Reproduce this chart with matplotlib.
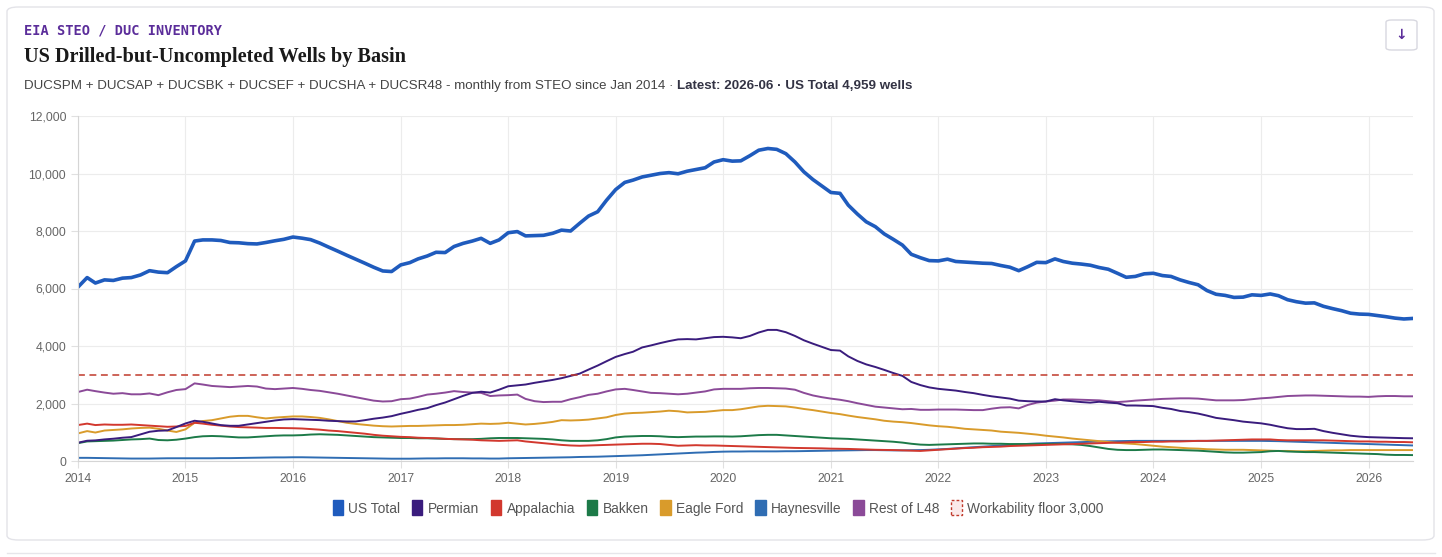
import matplotlib
matplotlib.use("Agg")
import matplotlib.pyplot as plt
import matplotlib.dates as mdates
from matplotlib.patches import Patch, FancyBboxPatch
from matplotlib.lines import Line2D
import pandas as pd

# monthly values, Jan 2014 .. Jun 2026
months = pd.date_range("2014-01-01", periods=150, freq="MS")

us_total = [
    6050, 6380, 6190, 6300, 6280, 6360, 6380, 6470, 6620, 6570, 6550, 6760,
    6960, 7650, 7690, 7690, 7670, 7600, 7590, 7560, 7550, 7600, 7660, 7710,
    7790, 7750, 7700, 7580, 7440, 7300, 7160, 7020, 6880, 6740, 6610, 6590,
    6820, 6900, 7030, 7130, 7260, 7250, 7460, 7570, 7650, 7745, 7570, 7690,
    7940, 7980, 7830, 7840, 7850, 7920, 8030, 8000, 8270, 8520, 8670, 9070,
    9440, 9690, 9770, 9880, 9940, 10000, 10030, 9990, 10080, 10140, 10200, 10400,
    10480, 10430, 10440, 10620, 10810, 10870, 10840, 10690, 10400, 10060, 9790, 9570,
    9340, 9310, 8900, 8590, 8320, 8150, 7900, 7710, 7510, 7190, 7070, 6970,
    6960, 7020, 6940, 6920, 6900, 6880, 6870, 6800, 6740, 6620, 6760, 6910,
    6900, 7030, 6940, 6880, 6850, 6810, 6730, 6670, 6530, 6390, 6420, 6510,
    6530, 6450, 6420, 6300, 6210, 6130, 5930, 5800, 5760, 5690, 5700, 5780,
    5760, 5810, 5750, 5610, 5540, 5490, 5500, 5380, 5300, 5230, 5140, 5110,
    5100, 5060, 5020, 4970, 4940, 4959,
]
permian = [
    636, 705, 717, 751, 775, 809, 832, 925, 1017, 1052, 1063, 1179,
    1306, 1400, 1364, 1306, 1248, 1225, 1225, 1271, 1318, 1364, 1410, 1445,
    1456, 1445, 1433, 1422, 1400, 1387, 1375, 1375, 1420, 1470, 1510, 1560,
    1641, 1710, 1780, 1838, 1942, 2035, 2150, 2266, 2370, 2410, 2380, 2480,
    2600, 2630, 2660, 2720, 2770, 2820, 2880, 2960, 3040, 3180, 3320, 3470,
    3620, 3720, 3800, 3950, 4020, 4100, 4170, 4230, 4240, 4230, 4270, 4310,
    4320, 4300, 4270, 4350, 4470, 4560, 4560, 4480, 4350, 4200, 4080, 3970,
    3860, 3840, 3640, 3480, 3360, 3270, 3170, 3060, 2960, 2750, 2640, 2560,
    2510, 2480, 2450, 2400, 2360, 2300, 2250, 2210, 2170, 2100, 2080, 2070,
    2070, 2150, 2110, 2080, 2050, 2030, 2060, 2030, 2010, 1930, 1930, 1920,
    1910, 1850, 1810, 1740, 1700, 1650, 1580, 1500, 1460, 1420, 1370, 1340,
    1310, 1260, 1200, 1140, 1110, 1110, 1120, 1040, 980, 930, 880, 850,
    830, 820, 810, 800, 795, 790,
]
appalachia = [
    1250, 1300, 1250, 1270, 1260, 1260, 1270, 1250, 1230, 1210, 1190, 1200,
    1220, 1330, 1300, 1260, 1230, 1200, 1180, 1170, 1160, 1150, 1150, 1145,
    1140, 1130, 1110, 1090, 1060, 1040, 1010, 980, 950, 910, 880, 860,
    840, 830, 810, 800, 790, 770, 760, 750, 740, 720, 710, 700,
    710, 720, 680, 650, 620, 590, 560, 540, 530, 540, 550, 560,
    570, 580, 590, 600, 600, 590, 560, 530, 540, 550, 540, 540,
    530, 520, 510, 500, 490, 480, 470, 460, 455, 450, 445, 440,
    430, 425, 420, 410, 400, 390, 385, 380, 370, 360, 350, 370,
    390, 410, 430, 450, 460, 480, 490, 500, 520, 530, 540, 550,
    560, 570, 580, 590, 600, 610, 620, 630, 640, 650, 660, 660,
    670, 670, 680, 680, 690, 700, 700, 710, 720, 730, 740, 750,
    750, 750, 730, 720, 720, 720, 720, 720, 710, 700, 690, 680,
    680, 670, 670, 660, 660, 650,
]
bakken = [
    620, 680, 690, 700, 710, 730, 750, 760, 780, 730, 720, 740,
    780, 830, 860, 870, 860, 840, 820, 820, 840, 860, 880, 890,
    890, 900, 920, 930, 920, 910, 890, 870, 850, 830, 820, 810,
    800, 800, 790, 790, 780, 770, 760, 760, 760, 770, 790, 800,
    800, 800, 790, 780, 770, 750, 720, 700, 700, 700, 720, 760,
    820, 850, 860, 870, 870, 860, 840, 830, 840, 850, 850, 855,
    855, 850, 860, 880, 900, 910, 910, 890, 870, 850, 830, 810,
    790, 780, 770, 750, 730, 710, 690, 670, 640, 600, 570, 560,
    570, 580, 590, 600, 610, 610, 600, 600, 590, 590, 590, 590,
    590, 590, 590, 580, 560, 520, 470, 420, 390, 380, 380, 390,
    400, 400, 390, 380, 370, 360, 340, 320, 300, 290, 290, 300,
    310, 340, 350, 330, 320, 310, 310, 300, 290, 280, 270, 260,
    250, 240, 220, 210, 210, 205,
]
eagle_ford = [
    960, 1040, 990, 1060, 1080, 1100, 1130, 1150, 1160, 1120, 1060, 1010,
    1100, 1330, 1390, 1420, 1480, 1540, 1570, 1570, 1520, 1480, 1510, 1530,
    1550, 1550, 1530, 1500, 1450, 1390, 1330, 1290, 1260, 1230, 1210, 1200,
    1210, 1220, 1220, 1230, 1240, 1250, 1250, 1260, 1280, 1300, 1290, 1300,
    1330, 1300, 1270, 1290, 1320, 1360, 1420, 1410, 1420, 1440, 1480, 1520,
    1600, 1650, 1670, 1680, 1700, 1720, 1750, 1730, 1690, 1700, 1710, 1740,
    1770, 1770, 1800, 1850, 1900, 1920, 1910, 1900, 1860, 1810, 1770, 1720,
    1670, 1630, 1580, 1530, 1490, 1450, 1400, 1370, 1350, 1320, 1280, 1240,
    1210, 1190, 1160, 1120, 1100, 1080, 1060, 1020, 1000, 980, 950, 920,
    880, 850, 820, 780, 750, 720, 690, 660, 630, 610, 590, 560,
    530, 500, 480, 460, 440, 430, 410, 400, 390, 390, 390, 380,
    370, 360, 350, 350, 340, 340, 350, 360, 370, 370, 380, 380,
    380, 380, 380, 380, 380, 380,
]
haynesville = [
    110, 110, 105, 100, 95, 90, 85, 85, 85, 90, 95, 95,
    95, 95, 95, 95, 100, 100, 105, 110, 115, 120, 125, 125,
    130, 130, 125, 120, 115, 110, 105, 100, 95, 90, 85, 80,
    80, 80, 85, 90, 90, 95, 95, 95, 90, 90, 85, 85,
    95, 100, 105, 110, 115, 120, 125, 130, 140, 145, 150, 160,
    170, 180, 190, 200, 215, 230, 245, 260, 275, 290, 300, 315,
    325, 330, 330, 335, 335, 335, 335, 340, 340, 345, 350, 355,
    360, 365, 370, 375, 380, 380, 375, 370, 370, 375, 380, 390,
    405, 420, 440, 460, 480, 500, 520, 540, 560, 580, 595, 610,
    620, 630, 640, 650, 660, 670, 680, 685, 690, 695, 700, 700,
    700, 700, 700, 700, 700, 700, 700, 700, 700, 700, 700, 700,
    700, 695, 690, 680, 670, 660, 650, 640, 630, 620, 610, 600,
    590, 580, 570, 560, 550, 540,
]
rest_l48 = [
    2400, 2480, 2430, 2380, 2340, 2360, 2320, 2320, 2350, 2290, 2390, 2470,
    2500, 2700, 2660, 2610, 2590, 2570, 2590, 2610, 2590, 2520, 2500, 2520,
    2540, 2510, 2470, 2440, 2390, 2340, 2280, 2220, 2160, 2100, 2070, 2080,
    2150, 2170, 2230, 2310, 2340, 2380, 2430, 2400, 2380, 2370, 2260, 2280,
    2290, 2310, 2160, 2080, 2050, 2060, 2060, 2150, 2220, 2300, 2340, 2420,
    2490, 2510, 2470, 2420, 2370, 2360, 2340, 2320, 2340, 2380, 2420, 2490,
    2510, 2510, 2510, 2530, 2540, 2540, 2530, 2520, 2480, 2370, 2280, 2220,
    2170, 2130, 2080, 2010, 1950, 1890, 1860, 1830, 1800, 1810, 1780, 1780,
    1790, 1790, 1790, 1780, 1770, 1770, 1820, 1860, 1870, 1830, 1950, 2030,
    2070, 2100, 2140, 2140, 2130, 2120, 2110, 2080, 2050, 2070, 2100, 2120,
    2140, 2160, 2170, 2180, 2180, 2170, 2140, 2110, 2110, 2110, 2120, 2150,
    2180, 2200, 2230, 2260, 2270, 2280, 2280, 2270, 2260, 2250, 2240, 2240,
    2230, 2250, 2260, 2260, 2250, 2250,
]
floor_value = 3000

series = [
    ("US Total", us_total, "#1f5bbd", 2.6),
    ("Permian", permian, "#3a1c7d", 1.4),
    ("Appalachia", appalachia, "#d2382e", 1.4),
    ("Bakken", bakken, "#1c7a48", 1.4),
    ("Eagle Ford", eagle_ford, "#d99b2b", 1.4),
    ("Haynesville", haynesville, "#2f6db3", 1.4),
    ("Rest of L48", rest_l48, "#8b4a98", 1.4),
]

fig = plt.figure(figsize=(14.42, 5.57), dpi=100)
fig.patch.set_facecolor("white")

# card outline (behind everything)
card = FancyBboxPatch((7 / 1442, 17 / 557), 1427 / 1442, 533 / 557,
                      boxstyle="round,pad=0,rounding_size=0.008",
                      transform=fig.transFigure, facecolor="white",
                      edgecolor="#e3e3e8", linewidth=1.0, zorder=-10)
fig.add_artist(card)
fig.add_artist(Line2D([7 / 1442, 1435 / 1442], [4 / 557, 4 / 557],
                      transform=fig.transFigure, color="#e6e6ea", lw=1.0, zorder=-10))

# download button
btn = FancyBboxPatch((1386 / 1442, 1 - 50 / 557), 31 / 1442, 30 / 557,
                     boxstyle="round,pad=0,rounding_size=0.004",
                     transform=fig.transFigure, facecolor="white",
                     edgecolor="#d8d8e0", linewidth=1.0)
fig.add_artist(btn)
fig.text(1401.5 / 1442, 1 - 35 / 557, "↓", ha="center", va="center",
         fontsize=10, fontweight="bold", color="#5b2d9a", family="DejaVu Sans")

# header texts
fig.text(24 / 1442, 1 - 30 / 557, "EIA STEO / DUC INVENTORY", ha="left", va="center",
         fontsize=9.85, fontweight="bold", color="#5b2d9a", family="DejaVu Sans Mono")
fig.text(24 / 1442, 1 - 57 / 557, "US Drilled-but-Uncompleted Wells by Basin",
         ha="left", va="center", fontsize=14.6, fontweight="bold", color="#1a1a1a",
         family="Liberation Serif")
sub1 = fig.text(24 / 1442, 1 - 86 / 557,
                "DUCSPM + DUCSAP + DUCSBK + DUCSEF + DUCSHA + DUCSR48 - monthly from STEO since Jan 2014 · ",
                ha="left", va="center", fontsize=9.65, color="#444444", family="Liberation Sans")
renderer = fig.canvas.get_renderer()
bb = sub1.get_window_extent(renderer)
fig.text(bb.x1 / fig.bbox.width, 1 - 86 / 557, "Latest: 2026-06 · US Total 4,959 wells",
         ha="left", va="center", fontsize=9.65, fontweight="bold", color="#333344",
         family="Liberation Sans")

ax = fig.add_axes([78 / 1442, 1 - 461 / 557, (1413 - 78) / 1442, (461 - 116) / 557])
ax.set_facecolor("white")
ax.set_zorder(1)

for name, vals, color, lw in reversed(series):
    ax.plot(months, vals, color=color, lw=lw, label=name, solid_joinstyle="round")

ax.axhline(floor_value, color="#c0392b", lw=1.1, dashes=(4.5, 3))

ax.set_xlim(months[0], months[-1])
ax.set_ylim(0, 12000)
ax.set_yticks(range(0, 12001, 2000))
ax.yaxis.set_major_formatter(matplotlib.ticker.FuncFormatter(lambda v, p: f"{int(v):,}"))
ax.xaxis.set_major_locator(mdates.YearLocator())
ax.xaxis.set_major_formatter(mdates.DateFormatter("%Y"))

ax.grid(True, color="#ececec", lw=0.8)
ax.set_axisbelow(True)
for side in ["top", "right"]:
    ax.spines[side].set_visible(False)
for side in ["left", "bottom"]:
    ax.spines[side].set_color("#d5d5d5")
    ax.spines[side].set_linewidth(0.8)
ax.tick_params(axis="both", length=5, color="#e0e0e0", labelcolor="#666666", labelsize=8.8)
for lab in ax.get_xticklabels() + ax.get_yticklabels():
    lab.set_family("Liberation Sans")

handles = [Patch(facecolor=c, edgecolor=c, label=n) for n, _, c, _ in series]
handles.append(Patch(facecolor="#fbeaea", edgecolor="#c0392b", linestyle=(0, (2, 1.5)),
                     linewidth=1.0, label="Workability floor 3,000"))
fig.legend(handles=handles, loc="center", bbox_to_anchor=(718 / 1442, 1 - 508 / 557),
           ncol=8, frameon=False, handlelength=0.75, handleheight=1.3, handletextpad=0.4,
           columnspacing=0.85, prop={"family": "Liberation Sans", "size": 9.9},
           labelcolor="#555555")

fig.savefig("out.png", dpi=100, facecolor="white")
